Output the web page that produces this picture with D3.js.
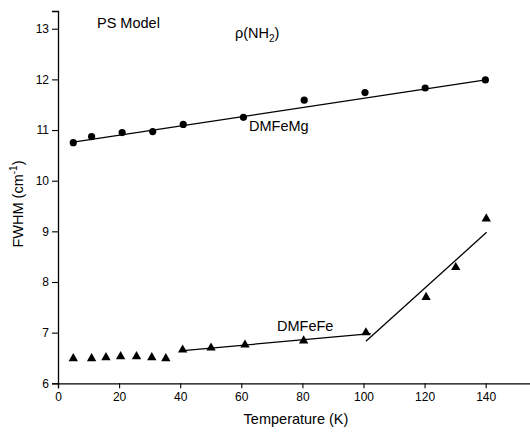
<!DOCTYPE html>
<html><head><meta charset="utf-8">
<script src="https://cdn.jsdelivr.net/npm/d3@7"></script>
<style>body{margin:0;background:#fff}svg{display:block;font-family:Arial,"Liberation Sans",sans-serif}</style>
</head><body><svg id="c" width="530" height="436"></svg>
<script>
const mgT = [5, 11, 21, 31, 41, 60.7, 80.6, 100.5, 120.2, 139.9];
const mgW = [10.75, 10.87, 10.95, 10.97, 11.11, 11.25, 11.59, 11.74, 11.83, 11.99];
const feT = [5, 11, 15.7, 20.5, 25.7, 30.7, 35.3, 40.8, 50.1, 61.2, 80.4, 100.8, 120.5, 130.2, 140.2];
const feW = [6.49, 6.49, 6.51, 6.53, 6.53, 6.51, 6.49, 6.66, 6.70, 6.76, 6.84, 7.00, 7.70, 8.29, 9.25];
const mgFit = [[5, 10.76], [140, 11.99]];
const feFit1 = [[40, 6.64], [102.4, 6.98]];
const feFit2 = [[100.8, 6.83], [140.3, 8.98]];
const xTicks = [0, 20, 40, 60, 80, 100, 120, 140];
const yTicks = [6, 7, 8, 9, 10, 11, 12, 13];

const svg = d3.select("#c");
const x = d3.scaleLinear().domain([0, 155]).range([58, 531.5]);
const y = d3.scaleLinear().domain([6, 13.35]).range([383.3, 11]);

// minor ticks
const gx = svg.append("g").attr("transform", "translate(0,383.3)");
gx.call(d3.axisBottom(x).tickValues(d3.range(10, 160, 20)).tickSize(3).tickFormat(""));
gx.call(d3.axisBottom(x).tickValues(xTicks).tickSize(5).tickPadding(4).tickFormat(d3.format("d")));
const gy = svg.append("g").attr("transform", "translate(58,0)");
gy.call(d3.axisLeft(y).tickValues(d3.range(6.5, 13.4, 1)).tickSize(3).tickFormat(""));
gy.call(d3.axisLeft(y).tickValues(yTicks).tickSize(6).tickPadding(3).tickFormat(d3.format("d")));
svg.selectAll(".domain").attr("stroke", "#000").attr("stroke-width", 1.3);
svg.selectAll(".tick line").attr("stroke", "#000").attr("stroke-width", 1.1);
svg.selectAll(".tick text").attr("font-size", 12).attr("fill", "#000").attr("font-family", "Arial, 'Liberation Sans', sans-serif");

const line = d3.line().x(d => x(d[0])).y(d => y(d[1]));
[mgFit, feFit1, feFit2].forEach(f => svg.append("path").attr("d", line(f)).attr("fill", "none").attr("stroke", "#000").attr("stroke-width", 1.3));

svg.append("g").selectAll("circle").data(mgT.map((t, i) => [t, mgW[i]])).join("circle")
  .attr("cx", d => x(d[0])).attr("cy", d => y(d[1])).attr("r", 3.6).attr("fill", "#000");
const tri = d3.symbol().type(d3.symbolTriangle).size(38);
svg.append("g").selectAll("path").data(feT.map((t, i) => [t, feW[i]])).join("path")
  .attr("d", tri).attr("transform", d => `translate(${x(d[0])},${y(d[1])})`).attr("fill", "#000");

const txt = (xx, yy, s, size, anchor) => svg.append("text").attr("x", xx).attr("y", yy).attr("font-size", size).attr("text-anchor", anchor || "start").attr("fill", "#000").text(s);
txt(97, 28, "PS Model", 14.5);
const rho = txt(235, 38, "ρ(NH", 14.5);
rho.append("tspan").attr("font-size", 10).attr("dy", 4).text("2");
rho.append("tspan").attr("dy", -4).text(")");
txt(249, 131, "DMFeMg", 14.5);
txt(277, 331, "DMFeFe", 14.5);
txt(296, 424, "Temperature (K)", 14.5, "middle");
const yl = svg.append("text").attr("transform", "translate(23,204) rotate(-90)").attr("text-anchor", "middle").attr("font-size", 14.5).attr("fill", "#000");
yl.append("tspan").text("FWHM (cm");
yl.append("tspan").attr("font-size", 10).attr("dy", -6).text("-1");
yl.append("tspan").attr("dy", 6).text(")");
</script></body></html>
